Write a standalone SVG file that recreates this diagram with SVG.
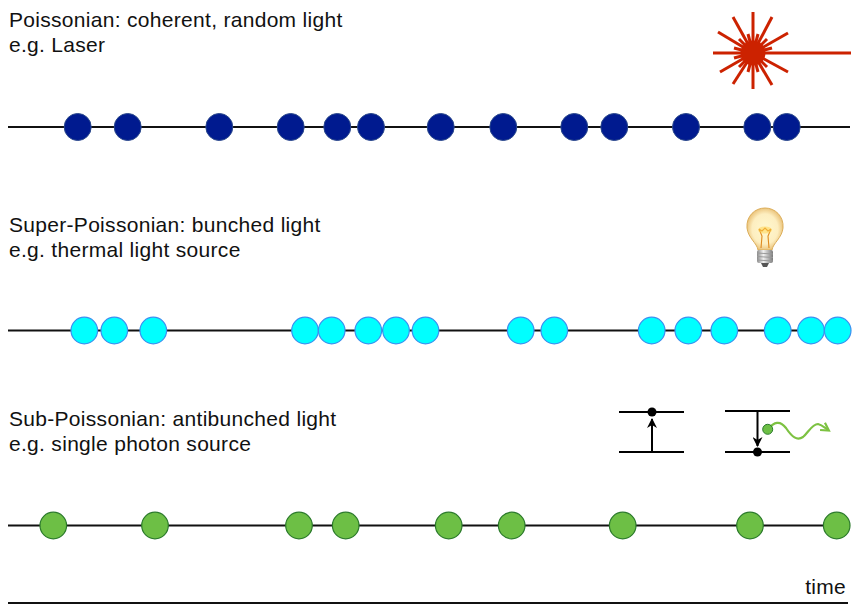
<svg xmlns="http://www.w3.org/2000/svg" width="852" height="608" viewBox="0 0 852 608">
  <style>
    .lbl { font-family: "Liberation Sans", Arial, sans-serif; font-size: 21px; letter-spacing: 0.3px; fill: #111; }
    .axis { stroke: #111; stroke-width: 2; fill: none; }
    .coh { fill: #001a8f; stroke: #2c4a8c; stroke-width: 1; }
    .bun { fill: #00ffff; stroke: #3b8ff0; stroke-width: 1.2; }
    .anti { fill: #6dbf45; stroke: #2b7a2b; stroke-width: 1.2; }
    .lvl { stroke: #000; stroke-width: 2; fill: none; }
    .ray { stroke: #cc2200; stroke-width: 3; }
  </style>
  <defs>
    <marker id="arr" viewBox="0 0 10 10" refX="9" refY="5" markerWidth="5" markerHeight="5" orient="auto">
      <path d="M0,0 L10,5 L0,10 L3,5 z" fill="#000"/>
    </marker>
    <marker id="arrg" viewBox="0 0 10 10" refX="7" refY="5" markerWidth="5" markerHeight="5" orient="auto">
      <path d="M1,1 L8,5 L1,9" fill="none" stroke="#7dc242" stroke-width="2"/>
    </marker>
    <radialGradient id="glass" cx="0.5" cy="0.5" r="0.55">
      <stop offset="0" stop-color="#fff8d0"/>
      <stop offset="0.65" stop-color="#fdeec0"/>
      <stop offset="1" stop-color="#e6b868"/>
    </radialGradient>
    <linearGradient id="socket" x1="0" x2="1" y1="0" y2="0">
      <stop offset="0" stop-color="#8a8a8a"/>
      <stop offset="0.4" stop-color="#f0f0f0"/>
      <stop offset="1" stop-color="#7a7a7a"/>
    </linearGradient>
  </defs>

  <!-- headings -->
  <g id="label-poisson">
    <text class="lbl" x="9" y="27">Poissonian: coherent, random light</text>
    <text class="lbl" x="9" y="52">e.g. Laser</text>
  </g>
  <g id="label-super">
    <text class="lbl" x="9" y="232">Super-Poissonian: bunched light</text>
    <text class="lbl" x="9" y="257">e.g. thermal light source</text>
  </g>
  <g id="label-sub">
    <text class="lbl" x="9" y="426">Sub-Poissonian: antibunched light</text>
    <text class="lbl" x="9" y="451">e.g. single photon source</text>
  </g>

  <!-- laser symbol -->
  <g id="laser" transform="translate(753,53)">
    <line class="ray" x1="0" y1="0" x2="98" y2="0" stroke-width="4.5"/>
    <g class="ray">
      <line x1="0" y1="0" x2="-40" y2="0"/>
      <line x1="0" y1="0" x2="0" y2="-41"/>
      <line x1="0" y1="0" x2="0" y2="36"/>
      <line x1="0" y1="0" x2="-20" y2="-36"/>
      <line x1="0" y1="0" x2="19" y2="-36"/>
      <line x1="0" y1="0" x2="-35" y2="-21"/>
      <line x1="0" y1="0" x2="35" y2="-20"/>
      <line x1="0" y1="0" x2="-33" y2="19"/>
      <line x1="0" y1="0" x2="35" y2="19"/>
      <line x1="0" y1="0" x2="-20" y2="31"/>
      <line x1="0" y1="0" x2="19" y2="32"/>
      <line x1="0" y1="0" x2="-19" y2="-5"/>
      <line x1="0" y1="0" x2="-5" y2="-19"/>
      <line x1="0" y1="0" x2="5" y2="-19"/>
      <line x1="0" y1="0" x2="19" y2="-5"/>
      <line x1="0" y1="0" x2="-19" y2="5"/>
      <line x1="0" y1="0" x2="-5" y2="19"/>
      <line x1="0" y1="0" x2="5" y2="19"/>
      <line x1="0" y1="0" x2="14" y2="-14"/>
      <line x1="0" y1="0" x2="-14" y2="-14"/>
      <line x1="0" y1="0" x2="-14" y2="14"/>
      <line x1="0" y1="0" x2="14" y2="14"/>
    </g>
    <circle r="12.5" fill="#cc2200"/>
  </g>

  <!-- light bulb -->
  <g id="bulb">
    <path d="M758,250 C757,243 748,238 747,228 C746,216 755,208 765,208 C775,208 784,216 783,228 C782,238 773,243 772,250 Z" fill="url(#glass)" stroke="#dcae5a" stroke-width="1"/>
    <path d="M761,248 L762,236 L759,229 M769,248 L768,236 L771,229 M759,229 L762,231 L765,228 L768,231 L771,229" fill="none" stroke="#e08a1e" stroke-width="1.1"/>
    <ellipse cx="765" cy="230" rx="7" ry="3.5" fill="#ffd24a" opacity="0.5"/>
    <rect x="757" y="250" width="16" height="13" rx="2" fill="url(#socket)"/>
    <g stroke="#9a9a9a" stroke-width="1">
      <line x1="757" y1="253" x2="773" y2="254"/>
      <line x1="757" y1="256.5" x2="773" y2="257.5"/>
      <line x1="757" y1="260" x2="773" y2="261"/>
    </g>
    <path d="M761,263 L769,263 L767,267 L763,267 Z" fill="#555"/>
  </g>

  <!-- two-level emitter -->
  <g id="absorb">
    <line class="lvl" x1="619" y1="412" x2="684" y2="412"/>
    <line class="lvl" x1="619" y1="452" x2="684" y2="452"/>
    <line x1="652" y1="452" x2="652" y2="419" stroke="#000" stroke-width="2" marker-end="url(#arr)"/>
    <circle cx="652" cy="412" r="4.5" fill="#000"/>
  </g>
  <g id="emit">
    <line class="lvl" x1="725" y1="411" x2="790" y2="411"/>
    <line class="lvl" x1="725" y1="452" x2="790" y2="452"/>
    <line x1="757.5" y1="411" x2="757.5" y2="446" stroke="#000" stroke-width="2" marker-end="url(#arr)"/>
    <circle cx="757.5" cy="452" r="4.5" fill="#000"/>
    <path d="M768,429 C774,422 780,420 786,428 C792,437 797,441 803,437 C808,433 812,424 818,424 C822,425 825,428 828,430" fill="none" stroke="#7dc242" stroke-width="2.2" marker-end="url(#arrg)"/>
    <circle cx="767.7" cy="429.3" r="5" fill="#6dbf45" stroke="#2b7a2b" stroke-width="1"/>
  </g>

  <!-- time lines -->
  <g id="connectors">
    <line class="axis" x1="8" y1="127" x2="850" y2="127"/>
    <line class="axis" x1="8" y1="330.5" x2="830" y2="330.5"/>
    <line class="axis" x1="8" y1="525.5" x2="850" y2="525.5"/>
    <line class="axis" x1="8" y1="603" x2="848" y2="603"/>
  </g>

  <!-- coherent photons -->
  <g id="row-coherent">
    <circle class="coh" cx="77.7" cy="127" r="13.5"/>
    <circle class="coh" cx="127.7" cy="127" r="13.5"/>
    <circle class="coh" cx="219.3" cy="127" r="13.5"/>
    <circle class="coh" cx="290.7" cy="127" r="13.5"/>
    <circle class="coh" cx="337.3" cy="127" r="13.5"/>
    <circle class="coh" cx="371" cy="127" r="13.5"/>
    <circle class="coh" cx="440.7" cy="127" r="13.5"/>
    <circle class="coh" cx="503.3" cy="127" r="13.5"/>
    <circle class="coh" cx="574.3" cy="127" r="13.5"/>
    <circle class="coh" cx="614.3" cy="127" r="13.5"/>
    <circle class="coh" cx="686" cy="127" r="13.5"/>
    <circle class="coh" cx="757.3" cy="127" r="13.5"/>
    <circle class="coh" cx="786.7" cy="127" r="13.5"/>
  </g>

  <!-- bunched photons -->
  <g id="row-bunched">
    <circle class="bun" cx="84.3" cy="330.5" r="13.3"/>
    <circle class="bun" cx="114.3" cy="330.5" r="13.3"/>
    <circle class="bun" cx="153.3" cy="330.5" r="13.3"/>
    <circle class="bun" cx="305" cy="330.5" r="13.3"/>
    <circle class="bun" cx="331.7" cy="330.5" r="13.3"/>
    <circle class="bun" cx="368.3" cy="330.5" r="13.3"/>
    <circle class="bun" cx="396" cy="330.5" r="13.3"/>
    <circle class="bun" cx="425.5" cy="330.5" r="13.3"/>
    <circle class="bun" cx="520.7" cy="330.5" r="13.3"/>
    <circle class="bun" cx="554.3" cy="330.5" r="13.3"/>
    <circle class="bun" cx="651.7" cy="330.5" r="13.3"/>
    <circle class="bun" cx="688.3" cy="330.5" r="13.3"/>
    <circle class="bun" cx="724.3" cy="330.5" r="13.3"/>
    <circle class="bun" cx="777.7" cy="330.5" r="13.3"/>
    <circle class="bun" cx="811" cy="330.5" r="13.3"/>
    <circle class="bun" cx="837.7" cy="330.5" r="13.3"/>
  </g>

  <!-- antibunched photons -->
  <g id="row-antibunched">
    <circle class="anti" cx="53.3" cy="525.5" r="13.3"/>
    <circle class="anti" cx="155" cy="525.5" r="13.3"/>
    <circle class="anti" cx="299" cy="525.5" r="13.3"/>
    <circle class="anti" cx="345.7" cy="525.5" r="13.3"/>
    <circle class="anti" cx="448.7" cy="525.5" r="13.3"/>
    <circle class="anti" cx="511.7" cy="525.5" r="13.3"/>
    <circle class="anti" cx="622.7" cy="525.5" r="13.3"/>
    <circle class="anti" cx="750" cy="525.5" r="13.3"/>
    <circle class="anti" cx="836.7" cy="525.5" r="13.3"/>
  </g>

  <g id="label-time">
    <text class="lbl" x="846" y="594" text-anchor="end">time</text>
  </g>
</svg>
